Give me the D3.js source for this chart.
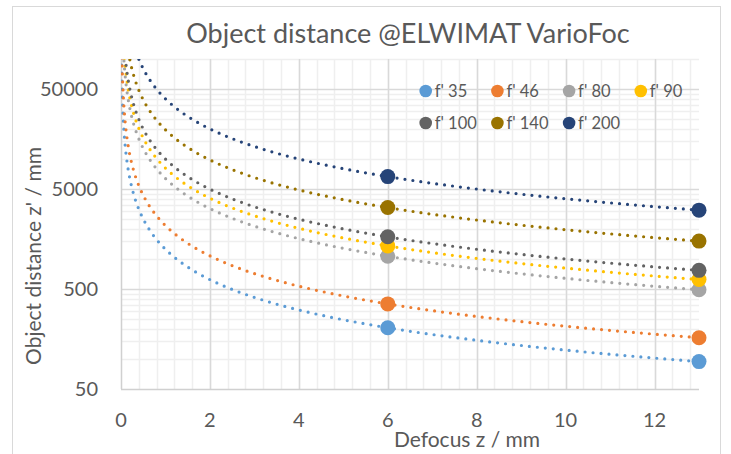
<!DOCTYPE html>
<html>
<head>
<meta charset="utf-8">
<script src="https://cdn.jsdelivr.net/npm/d3@7/dist/d3.min.js"></script>
<style>
  body { margin: 0; background: #fff; }
  svg text { font-family: Lato, 'Open Sans', sans-serif; fill: #595959; }
</style>
</head>
<body>
<svg id="chart" width="731" height="454"></svg>
<script>
// focal lengths of the VarioFoc, one series each
var seriesNames = ["f' 35", "f' 46", "f' 80", "f' 90", "f' 100", "f' 140", "f' 200"];
var seriesColors = ['#5B9BD5', '#ED7D31', '#A5A5A5', '#FFC000', '#636363', '#997300', '#264478'];

// measured points: defocus z (mm) and object distance z' (mm)
var defocus = [6, 13];
var distAtZ6 = [205, 355, 1065, 1350, 1665, 3265, 6665];
var distAtZ13 = [94, 163, 492, 623, 769, 1508, 3077];

var xTicks = [0, 2, 4, 6, 8, 10, 12];
var yTicks = [50, 500, 5000, 50000];

var svg = d3.select('#chart');

var plot = { left: 121, right: 699, top: 59, bottom: 389 };

var x = d3.scaleLinear().domain([0, 13]).range([plot.left, plot.right]);
var y = d3.scaleLog().domain([50, 100000]).range([plot.bottom, plot.top]);

// outer chart frame
svg.append('rect')
  .attr('x', 12.5).attr('y', 6.5)
  .attr('width', 708).attr('height', 480)
  .attr('fill', 'none')
  .attr('stroke', '#d9d9d9');

// gridlines
var minorX = d3.range(1, 33).map(function(i) { return i * 0.4; });
var minorY = [];
yTicks.forEach(function(m) {
  for (var k = 2; k <= 9; k++) {
    if (m * k <= 100000) minorY.push(m * k);
  }
});

var grid = svg.append('g');
grid.selectAll('.minx').data(minorX).enter().append('line')
  .attr('x1', function(d) { return Math.round(x(d)) + 0.5; })
  .attr('x2', function(d) { return Math.round(x(d)) + 0.5; })
  .attr('y1', plot.top).attr('y2', plot.bottom)
  .attr('stroke', '#efefef').attr('stroke-width', 1.5);
grid.selectAll('.miny').data(minorY).enter().append('line')
  .attr('x1', plot.left).attr('x2', plot.right)
  .attr('y1', function(d) { return Math.round(y(d)) + 0.5; })
  .attr('y2', function(d) { return Math.round(y(d)) + 0.5; })
  .attr('stroke', '#efefef').attr('stroke-width', 1.5);
grid.selectAll('.majx').data(xTicks.slice(1)).enter().append('line')
  .attr('x1', function(d) { return Math.round(x(d)) + 0.5; })
  .attr('x2', function(d) { return Math.round(x(d)) + 0.5; })
  .attr('y1', plot.top).attr('y2', plot.bottom)
  .attr('stroke', '#d9d9d9').attr('stroke-width', 1.5);
grid.selectAll('.majy').data(yTicks.slice(1)).enter().append('line')
  .attr('x1', plot.left).attr('x2', plot.right)
  .attr('y1', function(d) { return Math.round(y(d)) + 0.5; })
  .attr('y2', function(d) { return Math.round(y(d)) + 0.5; })
  .attr('stroke', '#d9d9d9').attr('stroke-width', 1.5);

// axis lines
svg.append('line')
  .attr('x1', plot.left).attr('x2', plot.right)
  .attr('y1', plot.bottom + 0.5).attr('y2', plot.bottom + 0.5)
  .attr('stroke', '#d0d0d0').attr('stroke-width', 1.5);
svg.append('line')
  .attr('x1', plot.left + 0.5).attr('x2', plot.left + 0.5)
  .attr('y1', plot.top).attr('y2', plot.bottom)
  .attr('stroke', '#d0d0d0').attr('stroke-width', 1.5);

// tick labels
svg.append('g').selectAll('text').data(xTicks).enter().append('text')
  .attr('x', function(d) { return x(d); })
  .attr('y', 427)
  .attr('text-anchor', 'middle')
  .style('font-size', '20px')
  .text(function(d) { return d; });

svg.append('g').selectAll('text').data(yTicks).enter().append('text')
  .attr('x', 98)
  .attr('y', function(d) { return y(d) + 7; })
  .attr('text-anchor', 'end')
  .style('font-size', '20px')
  .text(function(d) { return d; });

// titles
svg.append('text')
  .attr('x', 408).attr('y', 43)
  .attr('text-anchor', 'middle')
  .style('font-size', '27px')
  .text('Object distance @ELWIMAT VarioFoc');

svg.append('text')
  .attr('transform', 'translate(41,256) rotate(-90)')
  .attr('text-anchor', 'middle')
  .style('font-size', '21px')
  .text("Object distance z' / mm");

svg.append('text')
  .attr('x', 467).attr('y', 447)
  .attr('text-anchor', 'middle')
  .style('font-size', '21px')
  .text('Defocus z / mm');

// power trendlines (Excel style), fitted through the two measured points
svg.append('clipPath').attr('id', 'clip')
  .append('rect')
  .attr('x', plot.left).attr('y', plot.top)
  .attr('width', plot.right - plot.left).attr('height', plot.bottom - plot.top);

var line = d3.line()
  .x(function(d) { return x(d[0]); })
  .y(function(d) { return y(d[1]); });

var trendGroup = svg.append('g').attr('clip-path', 'url(#clip)');
var markerGroup = svg.append('g');

seriesNames.forEach(function(name, i) {
  var pts = [[defocus[0], distAtZ6[i]], [defocus[1], distAtZ13[i]]];
  var b = Math.log(pts[1][1] / pts[0][1]) / Math.log(pts[1][0] / pts[0][0]);
  var a = pts[0][1] / Math.pow(pts[0][0], b);
  var trend = d3.range(0.002, 13.0005, 0.004).map(function(z) {
    return [z, a * Math.pow(z, b)];
  });

  trendGroup.append('path')
    .attr('d', line(trend))
    .attr('fill', 'none')
    .attr('stroke', seriesColors[i])
    .attr('stroke-width', 3.2)
    .attr('stroke-linecap', 'round')
    .attr('stroke-dasharray', '0 8');
});

seriesNames.forEach(function(name, i) {
  var pts = [[defocus[0], distAtZ6[i]], [defocus[1], distAtZ13[i]]];
  markerGroup.selectAll('.m' + i).data(pts).enter().append('circle')
    .attr('cx', function(d) { return x(d[0]); })
    .attr('cy', function(d) { return y(d[1]); })
    .attr('r', 7.5)
    .attr('fill', seriesColors[i]);
});

// legend
var legend = svg.append('g');
seriesNames.forEach(function(name, i) {
  var col = i < 4 ? i : i - 4;
  var row = i < 4 ? 0 : 1;
  var cx = 425.7 + col * 71.7;
  var cy = 91 + row * 32;
  legend.append('circle')
    .attr('cx', cx).attr('cy', cy).attr('r', 6.3)
    .attr('fill', seriesColors[i]);
  legend.append('text')
    .attr('x', cx + 9).attr('y', cy + 6)
    .style('font-size', '16.5px')
    .text(name);
});
</script>
</body>
</html>
